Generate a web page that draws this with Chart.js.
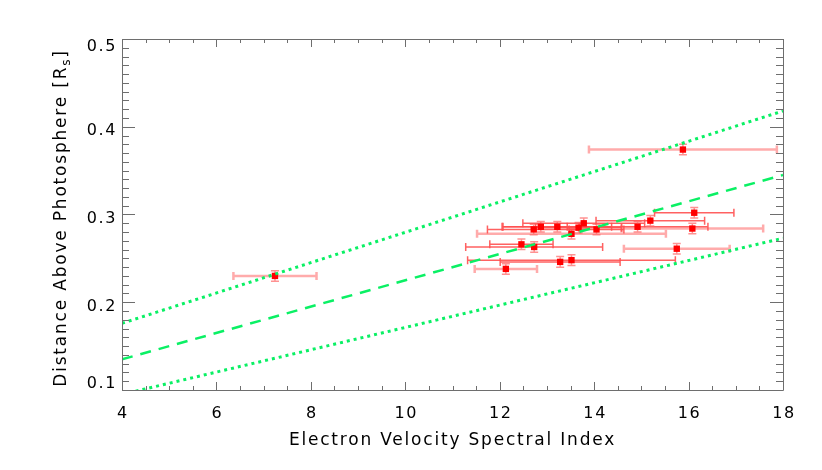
<!DOCTYPE html>
<html>
<head>
<meta charset="utf-8">
<script src="https://cdn.jsdelivr.net/npm/chart.js@4.4.0/dist/chart.umd.min.js"></script>
<style>
  html, body { margin: 0; padding: 0; background: #fff; }
  canvas { display: block; }
</style>
</head>
<body>
<canvas id="chart" width="822" height="470"></canvas>
<script>
// Events with the lighter error bars
const paleX = [7.24, 15.88, 13.52, 12.13, 15.75, 16.08];
const paleY = [0.230, 0.374, 0.278, 0.238, 0.261, 0.284];
const paleXErr = [0.88, 1.99, 2.0, 0.66, 1.12, 1.5];
const paleYErr = [0.006, 0.006, 0.006, 0.006, 0.006, 0.006];

// Events with the darker error bars
const darkX = [12.72, 12.87, 13.22, 13.67, 13.78, 14.05, 14.92, 12.46, 12.73, 13.28, 13.52, 16.12, 15.19];
const darkY = [0.283, 0.286, 0.286, 0.285, 0.290, 0.283, 0.286, 0.266, 0.263, 0.246, 0.248, 0.302, 0.293];
const darkXErr = [0.98, 0.82, 1.15, 0.91, 1.29, 0.58, 1.49, 0.67, 1.45, 1.27, 2.2, 0.84, 1.15];
const darkYErr = [0.006, 0.006, 0.006, 0.006, 0.006, 0.006, 0.006, 0.006, 0.006, 0.006, 0.006, 0.006, 0.006];

// Linear fit and its bounds
const fitX = [4, 18];
const fitY = [0.135, 0.345];
const upperY = [0.176, 0.418];
const lowerY = [0.095, 0.273];

const xTicks = [4, 6, 8, 10, 12, 14, 16, 18];
const yTicks = [0.1, 0.2, 0.3, 0.4, 0.5];
const xTitle = 'Electron Velocity Spectral Index';
const yTitle = 'Distance Above Photosphere [R';
const yTitleSub = 's';

const FONT = "'DejaVu Sans', sans-serif";
const green = 'rgb(10,240,100)';

function toPoints(xs, ys) {
  return xs.map((x, i) => ({ x: x, y: ys[i] }));
}

// Error bars drawn through the chart scales
const errorBars = {
  id: 'errorBars',
  beforeDatasetsDraw(chart) {
    const { ctx, chartArea, scales: { x, y } } = chart;
    ctx.save();
    ctx.beginPath();
    ctx.rect(chartArea.left, chartArea.top, chartArea.width, chartArea.height);
    ctx.clip();
    chart.data.datasets.forEach((ds) => {
      if (!ds.xErr) return;
      ds.data.forEach((p, i) => {
        const py = y.getPixelForValue(p.y);
        const px = x.getPixelForValue(p.x);
        const x0 = x.getPixelForValue(p.x - ds.xErr[i]);
        const x1 = x.getPixelForValue(p.x + ds.xErr[i]);
        const y0 = y.getPixelForValue(p.y - ds.yErr[i]);
        const y1 = y.getPixelForValue(p.y + ds.yErr[i]);
        ctx.strokeStyle = ds.barColor;
        ctx.lineWidth = ds.barWidth;
        ctx.beginPath();
        ctx.moveTo(x0, py); ctx.lineTo(x1, py);
        ctx.moveTo(x0, py - 4); ctx.lineTo(x0, py + 4);
        ctx.moveTo(x1, py - 4); ctx.lineTo(x1, py + 4);
        ctx.stroke();
        // vertical bar
        ctx.strokeStyle = 'rgba(255,110,110,0.75)';
        ctx.lineWidth = 1.5;
        ctx.beginPath();
        ctx.moveTo(px, y0); ctx.lineTo(px, y1);
        ctx.moveTo(px - 4, y0); ctx.lineTo(px + 4, y0);
        ctx.moveTo(px - 4, y1); ctx.lineTo(px + 4, y1);
        ctx.stroke();
      });
    });
    ctx.restore();
  }
};

// IDL style box, inward ticks on all four sides, and the text
const axisBox = {
  id: 'axisBox',
  afterDraw(chart) {
    const { ctx, chartArea: a, scales: { x, y } } = chart;
    ctx.save();
    ctx.strokeStyle = '#6e6e6e';
    ctx.lineWidth = 1;
    ctx.beginPath();
    ctx.rect(a.left + 0.5, a.top + 0.5, a.width, a.height);
    for (let v = 4; v <= 18.001; v += 0.5) {
      const px = Math.round(x.getPixelForValue(v)) + 0.5;
      const len = Math.abs(v % 2) < 0.01 ? 8 : 4;
      ctx.moveTo(px, a.bottom); ctx.lineTo(px, a.bottom - len);
      ctx.moveTo(px, a.top); ctx.lineTo(px, a.top + len);
    }
    for (let k = 0; k <= 40; k++) {
      const v = 0.1 + k * 0.01;
      const py = Math.round(y.getPixelForValue(v)) + 0.5;
      const len = k % 10 === 0 ? 13 : 7;
      ctx.moveTo(a.left, py); ctx.lineTo(a.left + len, py);
      ctx.moveTo(a.right, py); ctx.lineTo(a.right - len, py);
    }
    ctx.stroke();

    ctx.fillStyle = '#000';
    ctx.textBaseline = 'middle';

    // tick labels
    ctx.font = '16px ' + FONT;
    ctx.letterSpacing = '1.6px';
    ctx.textAlign = 'center';
    xTicks.forEach((v) => {
      ctx.fillText(String(v), x.getPixelForValue(v) + 1, a.bottom + 24);
    });
    ctx.textAlign = 'right';
    yTicks.forEach((v) => {
      let py = y.getPixelForValue(v) + 4.5;
      py = Math.min(Math.max(py, a.top + 8), a.bottom - 6);
      ctx.fillText(v.toFixed(1), a.left - 5, py);
    });

    // x axis title
    ctx.font = '17px ' + FONT;
    ctx.letterSpacing = '1.8px';
    ctx.textAlign = 'center';
    ctx.fillText(xTitle, (a.left + a.right) / 2, 441);

    // y axis title with subscript
    ctx.textAlign = 'left';
    const w1 = ctx.measureText(yTitle).width;
    const w3 = ctx.measureText(']').width;
    ctx.font = '12px ' + FONT;
    const w2 = ctx.measureText(yTitleSub).width;
    const total = w1 + w2 + w3;
    ctx.translate(62, 218);
    ctx.rotate(-Math.PI / 2);
    let tx = -total / 2;
    ctx.font = '17px ' + FONT;
    ctx.fillText(yTitle, tx, 0);
    tx += w1;
    ctx.font = '12px ' + FONT;
    ctx.fillText(yTitleSub, tx, 5);
    tx += w2;
    ctx.font = '17px ' + FONT;
    ctx.fillText(']', tx, 0);
    ctx.restore();
  }
};

new Chart(document.getElementById('chart'), {
  type: 'scatter',
  data: {
    datasets: [
      {
        type: 'line',
        data: toPoints(fitX, upperY),
        borderColor: green,
        borderWidth: 3,
        borderDash: [3, 4],
        pointRadius: 0,
        fill: false
      },
      {
        type: 'line',
        data: toPoints(fitX, fitY),
        borderColor: green,
        borderWidth: 2.5,
        borderDash: [11, 8],
        pointRadius: 0,
        fill: false
      },
      {
        type: 'line',
        data: toPoints(fitX, lowerY),
        borderColor: green,
        borderWidth: 3,
        borderDash: [3, 4],
        pointRadius: 0,
        fill: false
      },
      {
        data: toPoints(paleX, paleY),
        xErr: paleXErr,
        yErr: paleYErr,
        barColor: 'rgba(255,150,150,0.8)',
        barWidth: 2.5,
        pointStyle: 'rect',
        pointRadius: 4.5,
        backgroundColor: '#ff0000',
        borderWidth: 0
      },
      {
        data: toPoints(darkX, darkY),
        xErr: darkXErr,
        yErr: darkYErr,
        barColor: 'rgba(255,80,80,0.9)',
        barWidth: 1.5,
        pointStyle: 'rect',
        pointRadius: 4.5,
        backgroundColor: '#ff0000',
        borderWidth: 0
      }
    ]
  },
  options: {
    responsive: false,
    animation: false,
    layout: { padding: { top: 39, right: 39, left: 0, bottom: 0 } },
    plugins: {
      legend: { display: false },
      tooltip: { enabled: false }
    },
    scales: {
      x: {
        type: 'linear',
        min: 4,
        max: 18,
        afterBuildTicks: (s) => { s.ticks = xTicks.map((v) => ({ value: v })); },
        afterFit: (s) => { s.height = 80; },
        grid: { display: false },
        border: { display: false },
        ticks: { display: false }
      },
      y: {
        type: 'linear',
        min: 0.1,
        max: 0.5,
        afterBuildTicks: (s) => { s.ticks = yTicks.map((v) => ({ value: v })); },
        afterFit: (s) => { s.width = 122; },
        grid: { display: false },
        border: { display: false },
        ticks: { display: false }
      }
    }
  },
  plugins: [errorBars, axisBox]
});
</script>
</body>
</html>
